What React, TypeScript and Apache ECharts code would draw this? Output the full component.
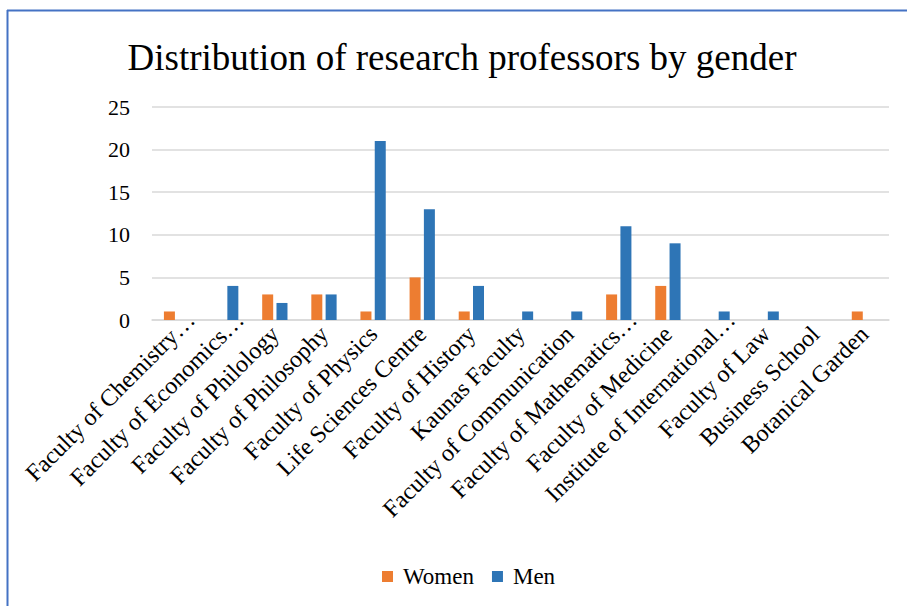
import React, { useEffect, useRef } from "react";
import * as echarts from "echarts";

const categories = [
  "Faculty of Chemistry…",
  "Faculty of Economics…",
  "Faculty of Philology",
  "Faculty of Philosophy",
  "Faculty of Physics",
  "Life Sciences Centre",
  "Faculty of History",
  "Kaunas Faculty",
  "Faculty of Communication",
  "Faculty of Mathematics…",
  "Faculty of Medicine",
  "Institute of International…",
  "Faculty of Law",
  "Business School",
  "Botanical Garden",
];
const women = [1, 0, 3, 3, 1, 5, 1, 0, 0, 3, 4, 0, 0, 0, 1];
const men = [0, 4, 2, 3, 21, 13, 4, 1, 1, 11, 9, 1, 1, 0, 0];
const yTicks = { min: 0, max: 25, interval: 5 };

const FONT = "Liberation Serif, Times New Roman, serif";

export default function App() {
  const ref = useRef<HTMLDivElement>(null);
  useEffect(() => {
    if (!ref.current) return;
    const chart = echarts.init(ref.current, null, { renderer: "svg" });
    chart.setOption({
      animation: false,
      backgroundColor: "#ffffff",
      textStyle: { fontFamily: FONT },
      title: {
        text: "Distribution of research professors by gender",
        left: 457,
        textAlign: "center",
        top: 34,
        textStyle: { fontFamily: FONT, fontSize: 37, fontWeight: "normal", color: "#000" },
      },
      legend: {
        top: 565,
        left: 382,
        padding: 0,
        itemWidth: 11,
        itemHeight: 11,
        itemGap: 18,
        icon: "rect",
        textStyle: { fontFamily: FONT, fontSize: 23, color: "#000", padding: [0, 0, 0, 5] },
        data: ["Women", "Men"],
      },
      grid: { left: 152, right: 18, top: 107, height: 213, containLabel: false },
      xAxis: {
        type: "category",
        data: categories,
        axisLine: { show: true, lineStyle: { color: "#d9d9d9", width: 1.5 } },
        axisTick: { show: false },
        axisLabel: {
          rotate: 45,
          interval: 0,
          fontFamily: FONT,
          fontSize: 24,
          color: "#000",
          margin: 10,
          formatter: (v: string) => (v.endsWith("…") ? "{t|" + v + "}" : v),
          rich: {
            t: { fontFamily: FONT, fontSize: 24, color: "#000", padding: [0, -20, 0, 0] },
          },
        },
      },
      yAxis: {
        type: "value",
        min: yTicks.min,
        max: yTicks.max,
        interval: yTicks.interval,
        axisLine: { show: false },
        axisTick: { show: false },
        splitLine: { lineStyle: { color: "#d9d9d9", width: 1.5 } },
        axisLabel: { fontFamily: FONT, fontSize: 22, color: "#000", margin: 22 },
      },
      series: [
        {
          name: "Women",
          type: "bar",
          data: women,
          barWidth: 11,
          barGap: "30%",
          itemStyle: { color: "#ED7D31" },
        },
        {
          name: "Men",
          type: "bar",
          data: men,
          barWidth: 11,
          barGap: "30%",
          itemStyle: { color: "#2E75B6" },
        },
      ],
      graphic: [
        { type: "line", shape: { x1: 7, y1: 10.5, x2: 907, y2: 10.5 }, style: { stroke: "#4472C4", lineWidth: 2 } },
        { type: "line", shape: { x1: 7.5, y1: 10, x2: 7.5, y2: 606 }, style: { stroke: "#4472C4", lineWidth: 2 } },
      ],
    });
    return () => chart.dispose();
  }, []);
  return (
    <div
      ref={ref}
      style={{ position: "absolute", left: 0, top: 0, width: 907, height: 606 }}
    />
  );
}
